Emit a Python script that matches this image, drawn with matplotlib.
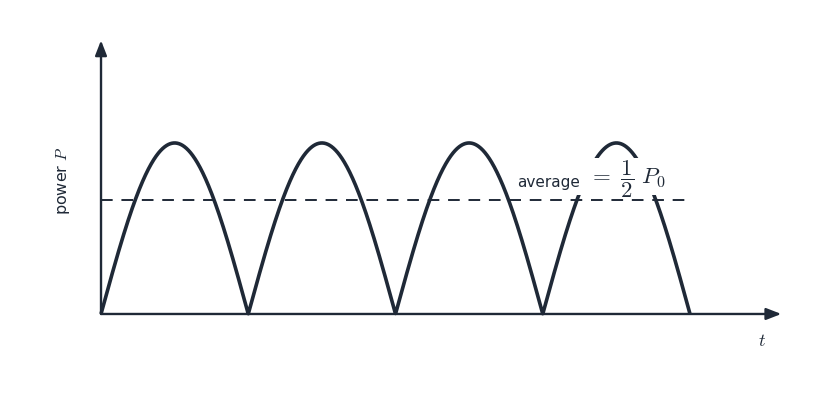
import numpy as np
import matplotlib.pyplot as plt
from matplotlib.patches import Rectangle

plt.rcParams['mathtext.fontset'] = 'cm'

# power curve: four arches of height P0 over t = 0..4 (half periods)
n_arches = 4
P0 = 1.0
P_avg = 0.667          # dashed level
x_label = "$t$"
y_label = "power $P$"
avg_word = "average"
avg_math = r"$=\ \dfrac{1}{2}\ P_0$"

ink = "#1f2937"

fig = plt.figure(figsize=(8.24, 4.0), dpi=100)
ax = fig.add_axes([0, 0, 1, 1])
ax.set_xlim(-0.686, 4.910)
ax.set_ylim(-0.503, 1.836)
ax.axis("off")

t = np.linspace(0, n_arches, 2000)
P = P0 * np.abs(np.sin(np.pi * t))
ax.plot(t, P, color=ink, lw=2.6, zorder=2, solid_capstyle="butt")

ax.plot([0, n_arches], [P_avg, P_avg], color=ink, lw=1.4,
        dashes=(6, 4.5), zorder=1)

# axes with arrows
arrow = dict(arrowstyle="-|>,head_length=0.9,head_width=0.35",
             color=ink, lw=1.7, shrinkA=0, shrinkB=0)
ax.annotate("", xy=(4.62, 0), xytext=(0, 0), arrowprops=arrow, zorder=3)
ax.annotate("", xy=(0, 1.60), xytext=(0, 0), arrowprops=arrow, zorder=3)

ax.text(4.49, -0.16, x_label, fontsize=13, color=ink, ha="center", va="center")
ax.text(-0.26, 0.78, y_label, fontsize=11.5, color=ink, rotation=90,
        ha="center", va="center")

# white label box over the curve
ax.add_patch(Rectangle((2.77, 0.695), 1.24, 0.22, fc="white", ec="none", zorder=4))
ax.text(2.825, 0.743, avg_word, fontsize=11, color=ink, ha="left",
        va="baseline", zorder=5)
ax.text(3.31, 0.784, avg_math, fontsize=16.5, color=ink, ha="left",
        va="center", zorder=5)

fig.savefig("out.png", dpi=100)
